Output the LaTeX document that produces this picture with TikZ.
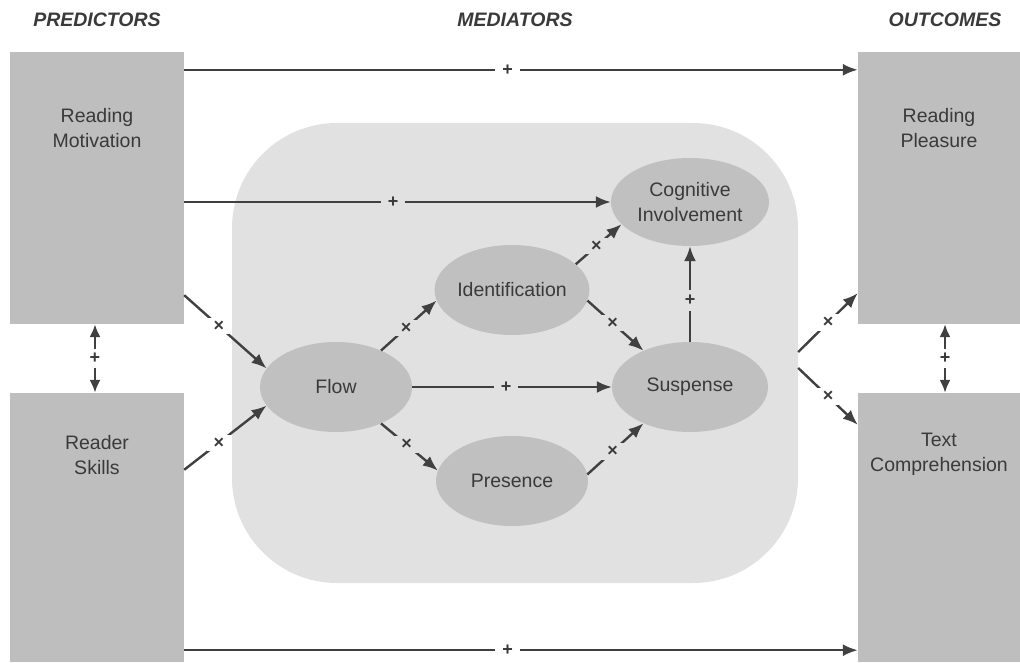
\documentclass[tikz,border=0pt]{standalone}
\usepackage{fontspec}
\setmainfont{Liberation Sans}
\usetikzlibrary{arrows.meta,calc,shapes.geometric}

\definecolor{boxgray}{HTML}{BEBEBE}
\definecolor{ovalgray}{HTML}{C0C0C0}
\definecolor{panelgray}{HTML}{E1E1E1}
\definecolor{ink}{HTML}{3A3A3A}
\definecolor{linegray}{HTML}{404040}

\tikzset{
  varbox/.style={rectangle, fill=boxgray, draw=none, inner sep=0pt},
  boxtext/.style={align=center, text=ink, font=\fontsize{19.5}{25}\selectfont},
  oval/.style={ellipse, fill=ovalgray, draw=none, minimum width=152pt, minimum height=90pt,
    inner sep=0pt, align=center, text=ink, font=\fontsize{19.5}{25}\selectfont},
  heading/.style={text=ink, font=\fontsize{19.5}{22}\selectfont\bfseries\itshape},
  arr/.style={draw=linegray, line width=2.4pt, -{Latex[length=15pt,width=12pt]}},
  biarr/.style={draw=linegray, line width=2.2pt, {Latex[length=13pt,width=11pt]}-{Latex[length=13pt,width=11pt]}},
  markw/.style={fill=white, text=ink, inner xsep=7pt, inner ysep=3pt,
    font=\fontsize{18}{18}\selectfont\bfseries},
  markg/.style={markw, fill=panelgray},
  markv/.style={markw, inner xsep=2pt, inner ysep=4pt},
}

\begin{document}
\begin{tikzpicture}[x=1pt, y=1pt]
\useasboundingbox (0,0) rectangle (1020,662);

% column headings
\node[heading] (hpred) at (97,642) {PREDICTORS};
\node[heading] (hmed)  at (515,642) {MEDIATORS};
\node[heading] (hout)  at (945,642) {OUTCOMES};

% mediator panel
\node[rectangle, rounded corners=105pt, fill=panelgray, minimum width=566pt,
      minimum height=460pt, inner sep=0pt] (med) at (515,309) {};

% predictor and outcome blocks
\node[varbox, minimum width=174pt, minimum height=272pt] (rm) at (97,474) {};
\node[varbox, minimum width=174pt, minimum height=269pt] (rs) at (97,134.5) {};
\node[varbox, minimum width=162pt, minimum height=272pt] (rp) at (939,474) {};
\node[varbox, minimum width=162pt, minimum height=269pt] (tc) at (939,134.5) {};

\node[boxtext] (rmtext) at ($(rm.north)+(0,-76)$) {Reading\\Motivation};
\node[boxtext] (rstext) at ($(rs.north)+(0,-62)$) {Reader\\Skills};
\node[boxtext] (rptext) at ($(rp.north)+(0,-76)$) {Reading\\Pleasure};
\node[boxtext] (tctext) at ($(tc.north)+(0,-62)$) {Text\\Comprehension};

% mediators
\node[oval, minimum width=158pt, minimum height=88pt] (cog) at (690,460) {Cognitive\\Involvement};
\node[oval] (ident) at (512,372) {Identification};
\node[oval] (flow)  at (336,275) {Flow};
\node[oval, minimum width=156pt] (susp)  at (690,275) {Suspense};
\node[oval] (pres)  at (512,181) {Presence};

% direct paths
\draw[arr] ($(rm.north east)+(0,-18)$) -- node[pos=0.48, markw] {+} ($(rp.north west)+(0,-18)$);
\draw[arr] (rm.east |- cog) -- node[pos=0.49, markg] {+} (cog.west);
\draw[arr] ($(rs.south east)+(0,12)$) -- node[pos=0.48, markw] {+} ($(tc.south west)+(0,12)$);

% predictors into flow
\draw[arr] ($(rm.south east)+(0,29)$) -- node[pos=0.42, markw] {×} (flow.165);
\draw[arr] ($(rs.north east)+(0,-77)$) -- node[pos=0.42, markw] {×} (flow.195);

% paths among mediators
\draw[arr] (flow.39) -- node[pos=0.45, markg] {×} (ident.188);
\draw[arr] (flow.east) -- node[pos=0.47, markg] {+} (susp.west);
\draw[arr] (flow.-39) -- node[pos=0.45, markg] {×} (pres.172);
\draw[arr] (ident.22) -- node[pos=0.45, markg] {×} (cog.198);
\draw[arr] (ident.-8) -- node[pos=0.45, markg] {×} (susp.142);
\draw[arr] (pres.5) -- node[pos=0.45, markg] {×} (susp.218);
\draw[arr] (susp.north) -- node[pos=0.43, markg, inner xsep=2pt, inner ysep=5pt] {+} (cog.south);

% mediators into outcomes
\draw[arr] ($(med.east)+(0,1)$) -- node[pos=0.5, markw] {×} ($(rp.south west)+(0,31)$);
\draw[arr] ($(med.east)+(0,-15)$) -- node[pos=0.5, markw] {×} ($(tc.north west)+(0,-32)$);

% correlations
\draw[biarr] ($(rm.south)+(-2,0)$) -- node[markv] {+} ($(rs.north)+(-2,0)$);
\draw[biarr] ($(rp.south)+(6,0)$) -- node[markv] {+} ($(tc.north)+(6,0)$);
\end{tikzpicture}
\end{document}
